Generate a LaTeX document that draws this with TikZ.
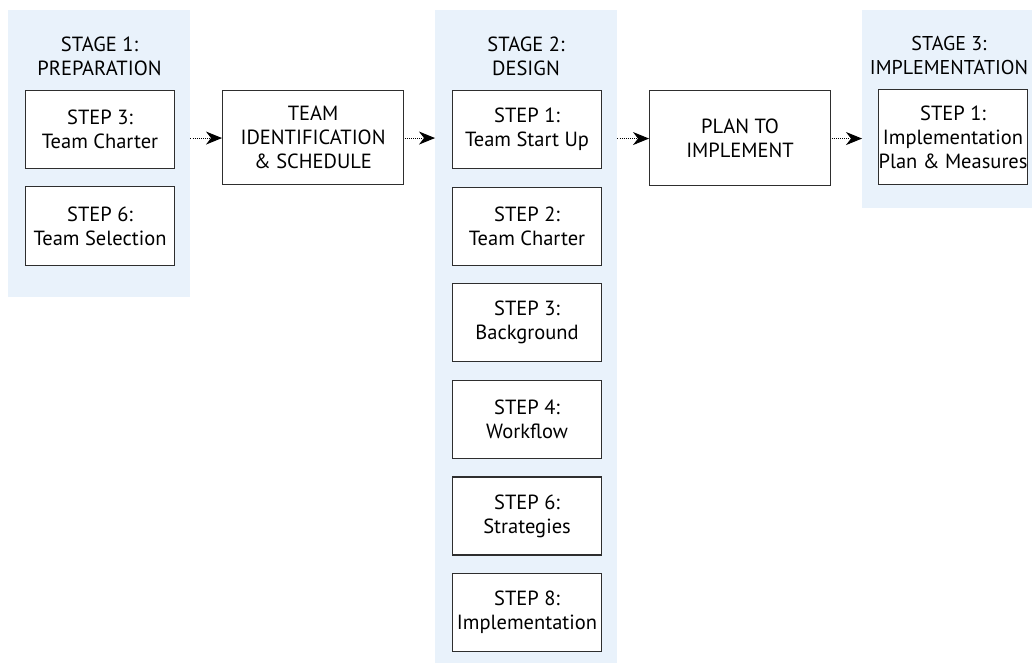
\documentclass[tikz,border=0pt]{standalone}
\usepackage{fontspec}
\setmainfont{PT Sans}
\usetikzlibrary{arrows.meta}
\definecolor{panelblue}{HTML}{E9F2FB}
\definecolor{boxline}{HTML}{2E2E2E}
\begin{document}
\begin{tikzpicture}[x=1pt,y=-1pt,
  panel/.style={fill=panelblue,draw=none,inner sep=0pt,anchor=north west},
  stepbox/.style={draw=boxline,line width=1.1pt,fill=white,align=center,
    inner sep=0pt,anchor=north west,
    font=\fontsize{20.5}{24}\selectfont},
  stagetitle/.style={align=center,inner sep=0pt,
    font=\fontsize{20.5}{24}\selectfont},
  flow/.style={draw=black,line width=1pt,dash pattern=on 1pt off 1.1pt,
    -{Stealth[length=16pt,width=13pt,inset=5pt]}}]
\useasboundingbox (0,0) rectangle (1032,666);
\clip (0,0) rectangle (1032,666);
\fill[white] (0,0) rectangle (1032,666);

% stage panels
\node[panel,minimum width=182pt,minimum height=287pt] (p1) at (8,10) {};
\node[panel,minimum width=182pt,minimum height=653pt] (p2) at (435,10) {};
\node[panel,minimum width=170pt,minimum height=198pt] (p3) at (862,10) {};

% stage titles
\node[stagetitle] (t1) at (99.5,56) {STAGE 1:\\PREPARATION};
\node[stagetitle] (t2) at (526,56) {STAGE 2:\\DESIGN};
\node[stagetitle,font=\fontsize{20}{24}\selectfont] (t3) at (949,56) {STAGE 3:\\IMPLEMENTATION};

% stage 1 steps
\node[stepbox,minimum width=149pt,minimum height=78pt] (s1a) at (25,90) {STEP 3:\\Team Charter};
\node[stepbox,minimum width=149pt,minimum height=79pt] (s1b) at (25,186) {STEP 6:\\Team Selection};

% between stages
\node[stepbox,minimum width=181pt,minimum height=94pt] (team) at (222,90) {TEAM\\IDENTIFICATION\\\& SCHEDULE};
\node[stepbox,minimum width=181pt,minimum height=95pt] (plan) at (649,90) {PLAN TO\\IMPLEMENT};

% stage 2 steps
\node[stepbox,minimum width=149pt,minimum height=78pt] (s2a) at (452,90)    {STEP 1:\\Team Start Up};
\node[stepbox,minimum width=149pt,minimum height=78pt] (s2b) at (452,186.6) {STEP 2:\\Team Charter};
\node[stepbox,minimum width=149pt,minimum height=78pt] (s2c) at (452,283.2) {STEP 3:\\Background};
\node[stepbox,minimum width=149pt,minimum height=78pt] (s2d) at (452,379.8) {STEP 4:\\Workflow};
\node[stepbox,minimum width=149pt,minimum height=78pt] (s2e) at (452,476.4) {STEP 6:\\Strategies};
\node[stepbox,minimum width=149pt,minimum height=78pt] (s2f) at (452,573)   {STEP 8:\\Implementation};

% stage 3 step
\node[stepbox,minimum width=145pt,minimum height=95pt] (s3a) at (878,89) {STEP 1:\\Implementation\\Plan \& Measures};

% flow arrows
\draw[flow] ([yshift=-0.5pt]p1.east |- team.west) -- ([yshift=-0.5pt]team.west);
\draw[flow] ([xshift=0.5pt,yshift=-0.5pt]team.east) -- ([yshift=-0.5pt]p2.west |- team.east);
\draw[flow] ([yshift=-0.5pt]p2.east |- plan.west) -- ([yshift=-0.5pt]plan.west);
\draw[flow] ([xshift=0.5pt,yshift=-0.5pt]plan.east) -- ([yshift=-0.5pt]p3.west |- plan.east);
\end{tikzpicture}
\end{document}
